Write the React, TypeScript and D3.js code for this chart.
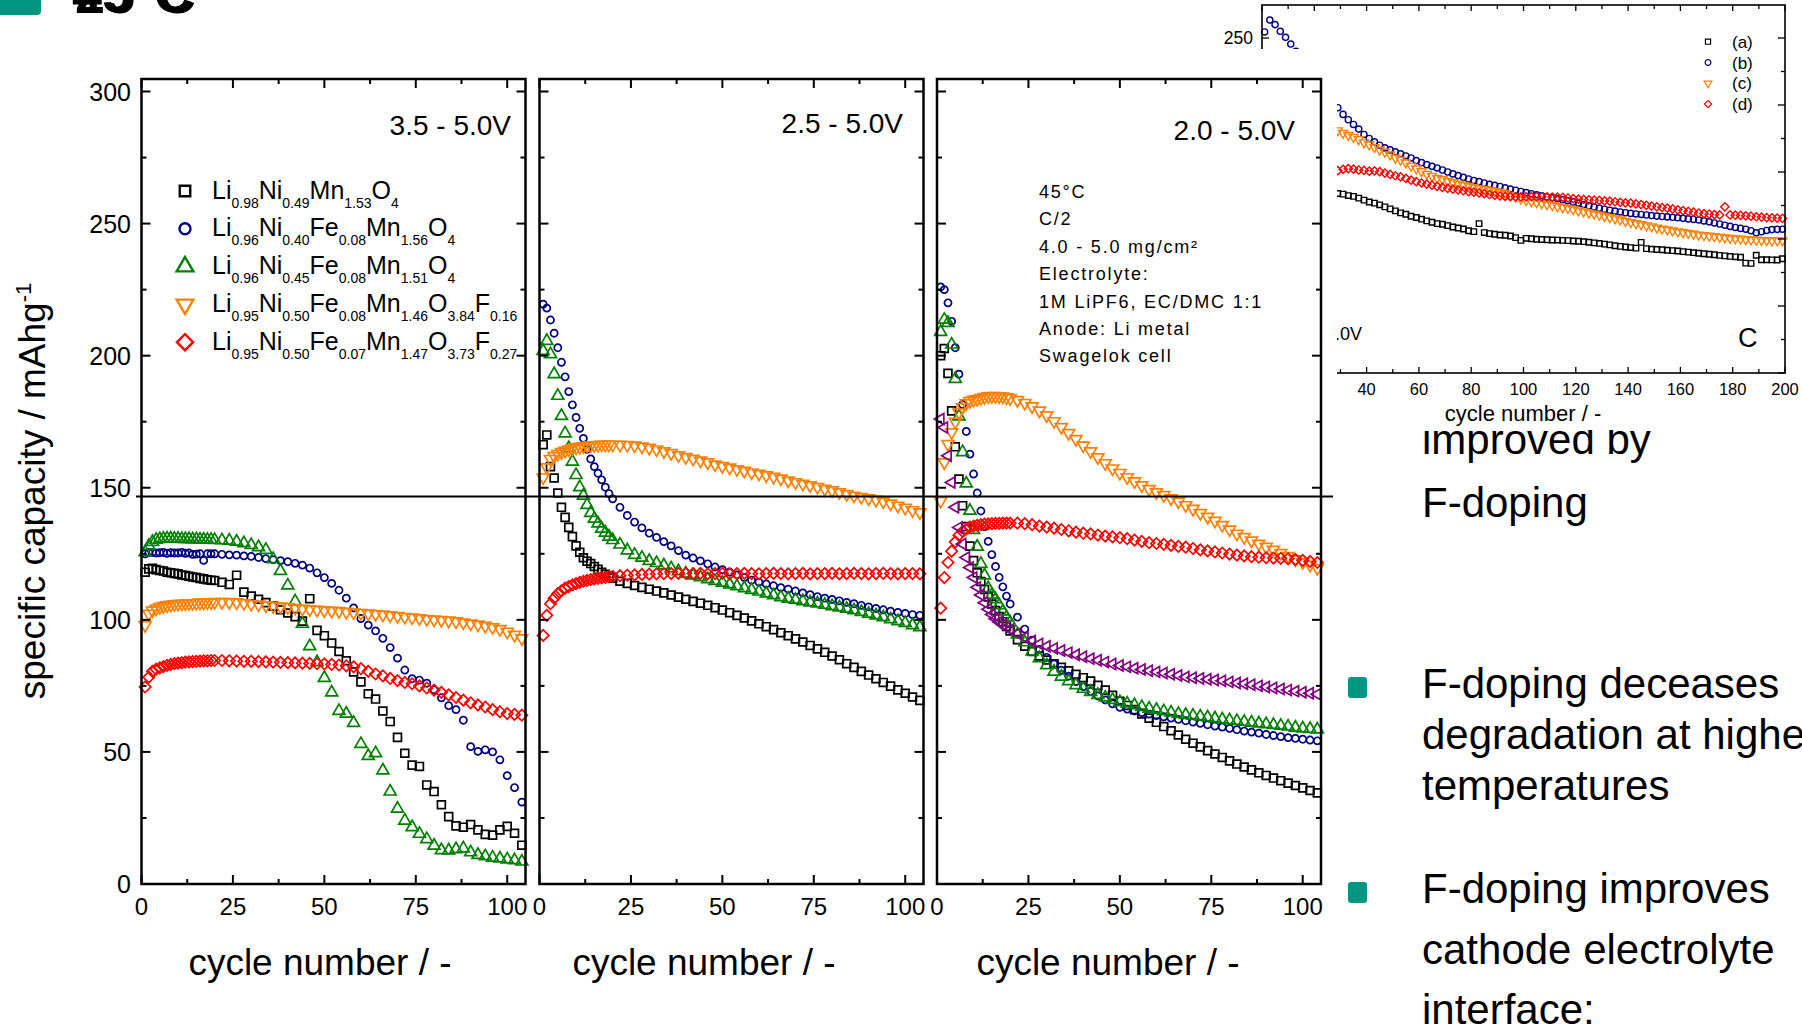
import React, { useEffect } from 'react';
import * as d3 from 'd3';

const FONT = "'Liberation Sans', Arial, Helvetica, sans-serif";
const TEAL = '#009682';
const W = 1802;
const H = 1028;

/* ---------- main panels: cycle numbers shared by every series ---------- */
const cycles = [
  1, 2, 3, 4, 5, 6, 7, 8, 9, 10, 11, 12, 13, 14, 15, 16, 17, 18, 19, 20,
  22, 24, 26, 28, 30, 32, 34, 36, 38, 40, 42, 44, 46, 48, 50, 52, 54, 56, 58, 60,
  62, 64, 66, 68, 70, 72, 74, 76, 78, 80, 82, 84, 86, 88, 90, 92, 94, 96, 98, 100, 102, 104,
];

/* 3.5 - 5.0 V */
const p1Black = [118, 119.3, 119.5, 119, 118.7, 118.5, 118, 117.8, 117.6, 117.4, 117, 116.8, 116.5, 116.2, 116, 115.7, 115.5, 115.2, 115, 114.9,
  114.2, 113.4, 116.9, 110.5, 109, 107.8, 106.5, 105.2, 103.8, 102.6, 101.2, 99.5, 108, 96, 94, 91.2, 88, 84.5, 80.3, 76.5,
  72, 70, 65.5, 61.5, 55.5, 49.5, 45, 44.5, 37.5, 35, 30, 25.5, 22, 21.5, 22.5, 20.5, 18.8, 18.5, 20.5, 21.8, 19.2, 14.7];
const p1Blue = [125, 125.5, 125.5, 125.3, 125.4, 125.5, 125.2, 125.4, 125.3, 125.3, 125.5, 125.2, 125.3, 124.8, 124.9, 125, 122.5, 125, 125, 125,
  124.8, 124.6, 124.5, 124.2, 124, 123.6, 123.2, 122.8, 122.4, 122, 121.4, 120.7, 119.6, 117.8, 116, 113.8, 111.2, 108.2, 104.5, 100.5,
  98, 95.8, 93, 89.5, 85.5, 81, 77.7, 77.2, 76, 73.5, 70.5, 67.5, 66, 62, 52, 50.2, 50.8, 50, 47, 41, 36.5, 31];
const p1Green = [125.6, 128, 129.5, 130.3, 130.6, 130.7, 130.8, 130.8, 130.7, 130.7, 130.6, 130.6, 130.6, 130.5, 130.5, 130.4, 130.4, 130.3, 130.3, 130.2,
  130.1, 130, 129.6, 129, 128.3, 127.5, 126.5, 123, 118.5, 113, 107, 98.5, 90, 84, 78, 72.5, 65.5, 64.5, 61, 53,
  48.5, 49.5, 43, 35, 28.5, 24, 21.5, 19, 17, 14.5, 12.8, 12.7, 13.2, 13.5, 12, 11, 10.5, 10, 9.7, 9.3, 9, 8.5];
const p1Orange = [98, 102.3, 103.5, 104.2, 104.8, 105.2, 105.5, 105.7, 105.9, 106, 106.1, 106.2, 106.3, 106.3, 106.4, 106.5, 106.5, 106.6, 106.6, 106.7,
  106.7, 106.7, 106.6, 106.3, 106, 105.8, 105.5, 105.2, 105, 104.8, 104.5, 104.2, 104, 103.8, 103.6, 103.4, 103.3, 103, 102.8, 102.6,
  102.4, 102.2, 102, 101.7, 101.4, 101.1, 100.9, 100.6, 100.3, 100.1, 99.9, 99.7, 99.4, 99, 98.6, 98.2, 97.7, 97.2, 96.5, 95.5, 94.3, 93];
const p1Red = [74.6, 78.3, 80.5, 81.3, 81.8, 82.3, 82.8, 83.1, 83.4, 83.6, 83.8, 84, 84.1, 84.2, 84.3, 84.4, 84.5, 84.5, 84.6, 84.6,
  84.6, 84.5, 84.4, 84.3, 84.3, 84.2, 84.1, 84, 83.9, 83.8, 83.7, 83.6, 83.5, 83.4, 83.3, 83.1, 82.9, 82.6, 82.2, 81.5,
  80.5, 79.5, 78.8, 77.8, 77, 76.3, 75.8, 75, 74.2, 73.4, 72.5, 71.6, 70.6, 69.6, 68.6, 67.8, 67, 66, 65.2, 64.5, 64.2, 63.9];

/* 2.5 - 5.0 V */
const p2Black = [166.3, 170, 158, 153.7, 148, 142.6, 138.8, 135, 131.5, 128, 125.6, 123.5, 122.2, 121.3, 120.2, 119.1, 118, 117.2, 116.5, 115.8,
  114.6, 113.8, 113, 112.3, 111.6, 110.9, 110.2, 109.4, 108.6, 107.8, 107, 106.3, 105.5, 104.6, 103.7, 102.7, 101.7, 100.7, 99.6, 98.5,
  97.4, 96.3, 95.1, 94, 92.8, 91.6, 90.3, 89, 87.7, 86.3, 84.9, 83.4, 82, 80.5, 79.1, 77.7, 76.3, 74.9, 73.5, 72.2, 70.8, 69.5];
const p2Blue = [219.5, 218, 213.5, 208.5, 203, 197.5, 192, 186.4, 181.4, 176.6, 172.5, 168.7, 164.5, 160.9, 158, 155.5, 153, 150.2, 147.8, 145.8,
  142.6, 139.5, 137, 134.8, 132.8, 131.2, 129.6, 128, 126.2, 124.5, 123.4, 122.3, 121.2, 120, 119, 118.1, 117, 116, 115, 114.3,
  113.6, 112.9, 112.2, 111.6, 110.9, 110.2, 109.5, 108.8, 108.2, 107.7, 107.2, 106.6, 106.1, 105.5, 104.9, 104.3, 103.8, 103.3, 102.8, 102.4, 102, 101.7];
const p2Green = [201.8, 205.6, 200.6, 193, 184.8, 177.2, 170.6, 165, 159.9, 154.8, 150.2, 147, 143.5, 140.5, 138.3, 136.5, 134.5, 133, 131.5, 130.2,
  128.5, 126.3, 124.6, 123.5, 122.3, 121.5, 120.6, 119.5, 118.4, 117.5, 116.8, 116.1, 115.4, 114.7, 114.1, 113.4, 112.7, 112, 111.3, 110.7,
  110, 109.3, 108.6, 108, 107.6, 107.1, 106.6, 106.2, 105.7, 105.2, 104.7, 104.2, 103.6, 103, 102.3, 101.7, 101, 100.2, 99.5, 98.8, 98, 97.2];
const p2Orange = [153.9, 157.7, 160.9, 162, 162.8, 163.5, 164, 164.5, 164.9, 165.2, 165.5, 165.7, 165.9, 166, 166.1, 166.2, 166.3, 166.3, 166.3, 166.3,
  166.3, 166.2, 166, 165.6, 165.1, 164.5, 163.8, 163.1, 162.3, 161.6, 161, 160.3, 159.6, 158.8, 158.2, 157.6, 157, 156.4, 155.8, 155.3,
  154.7, 154.1, 153.5, 152.7, 152.1, 151.5, 150.9, 150.3, 149.6, 149, 148.3, 147.6, 147, 146.5, 146, 145.4, 144.8, 144, 143.2, 142.4, 141.5, 140.7];
const p2Red = [94.1, 101.7, 106.1, 108.2, 109.9, 111, 112, 112.6, 113.2, 113.7, 114.2, 114.6, 114.9, 115.2, 115.5, 115.7, 115.9, 116.1, 116.3, 116.5,
  116.7, 116.9, 117, 117.2, 117.3, 117.4, 117.5, 117.5, 117.6, 117.6, 117.5, 117.6, 117.4, 117.5, 117.6, 117.4, 117.5, 117.6, 117.5, 117.4,
  117.5, 117.6, 117.5, 117.4, 117.5, 117.6, 117.4, 117.5, 117.5, 117.6, 117.4, 117.5, 117.6, 117.5, 117.4, 117.5, 117.6, 117.5, 117.4, 117.5, 117.5, 117.4];

/* 2.0 - 5.0 V */
const p3Black = [200, 202.7, 193.3, 179.1, 165.5, 153.3, 143.2, 135.3, 127.9, 122.4, 117.8, 114.5, 111.5, 108.7, 106, 103.5, 101.2, 99.3, 97.5, 95.8,
  92.5, 90, 88, 86.3, 84.8, 83.4, 82, 80.7, 79.4, 78.1, 76.8, 75.2, 73.4, 71.4, 69.2, 67.6, 66, 64.4, 62.8, 61.2,
  59.6, 58, 56.4, 54.8, 53.3, 51.9, 50.5, 49.2, 47.9, 46.6, 45.4, 44.3, 43.2, 42.1, 41.1, 40.1, 39.1, 38.2, 37.3, 36.4, 35.4, 34.5];
const p3Blue = [226, 225, 220, 213, 203, 193, 181.5, 171.3, 162.7, 155.2, 148, 141.2, 135.3, 129.7, 124.7, 120.2, 116.1, 112.5, 109, 106,
  101, 96.5, 92.3, 88.8, 85.8, 83.3, 80.9, 78.7, 76.6, 74.7, 72.9, 71.2, 69.7, 68.2, 66.9, 66.2, 65.5, 64.9, 64.3, 63.8,
  63.3, 62.8, 62.3, 61.8, 61.3, 60.8, 60.3, 59.8, 59.4, 58.9, 58.4, 57.9, 57.5, 57.1, 56.6, 56.2, 55.8, 55.4, 55.1, 54.8, 54.5, 54.2];
const p3Green = [209, 213.6, 212.4, 204.2, 191.2, 177, 163.5, 151.6, 141.3, 134, 127.7, 121.2, 116.8, 112, 109.5, 107.8, 105.5, 103.2, 101, 99,
  94.5, 91.5, 88, 85.5, 82.8, 80.4, 78.5, 76.8, 75.3, 73.9, 72.7, 71.6, 70.6, 69.7, 68.9, 68.3, 67.7, 67, 66.4, 65.9,
  65.4, 64.9, 64.4, 64, 63.7, 63.4, 63.1, 62.7, 62.3, 62, 61.7, 61.4, 61.1, 60.8, 60.5, 60.2, 59.9, 59.6, 59.2, 58.9, 58.7, 58.5];
const p3Orange = [145, 159.6, 166.5, 171, 175, 178.5, 180.5, 182, 182.8, 183.3, 183.6, 184, 184.3, 184.6, 184.7, 184.7, 184.6, 184.5, 184.2, 183.9,
  183.2, 182.1, 180.8, 179.2, 177.4, 175.2, 173, 170.7, 168.4, 166, 163.8, 161.5, 159.3, 157.3, 155.6, 154, 152.4, 150.9, 149.5, 148.3,
  147.2, 146, 144.8, 143.4, 142, 140.4, 139, 137.5, 135.9, 134.2, 132.6, 131.3, 130, 128.8, 127.6, 126.5, 125.3, 124.1, 122.9, 121.8, 120.8, 119.6];
const p3Red = [104.4, 116, 121.7, 126, 129.5, 132, 133.5, 134.4, 135.1, 135.5, 135.8, 136, 136.2, 136.3, 136.4, 136.5, 136.5, 136.6, 136.6, 136.6,
  136.6, 136.4, 136, 135.5, 135.1, 134.7, 134.2, 133.7, 133.2, 132.8, 132.5, 132.1, 131.7, 131.4, 131.1, 130.7, 130.2, 129.7, 129.2, 128.9,
  128.6, 128.2, 127.8, 127.5, 127, 126.5, 126.1, 125.7, 125.3, 124.9, 124.5, 124.2, 123.9, 123.7, 123.5, 123.4, 123.3, 123.1, 122.8, 122.5, 122.1, 121.7];
const p3Purple = [176, 172.8, 162.1, 152, 142.6, 135, 128.7, 123.6, 119.8, 116, 112.3, 109.4, 106.5, 104, 102, 100.4, 99.2, 98.1, 97.1, 96.3,
  94.8, 93.3, 92, 90.9, 90, 89.2, 88.4, 87.6, 86.8, 86, 85.3, 84.7, 84, 83.3, 82.7, 82.2, 81.7, 81.2, 80.7, 80.3,
  79.9, 79.4, 78.9, 78.4, 78.1, 77.8, 77.5, 77.2, 76.9, 76.5, 76.1, 75.8, 75.4, 75, 74.6, 74.2, 73.8, 73.4, 73, 72.6, 72.2, 71.8];

/* ---------- inset (200 cycles) ---------- */
const insetCycles = [29, 31, 33, 35, 37, 39, 41, 43, 45, 47, 49, 51, 53, 55, 57, 59, 61, 63, 65, 67,
  69, 71, 73, 75, 77, 79, 81, 83, 85, 87, 89, 91, 93, 95, 97, 99, 101, 103, 105, 107,
  109, 111, 113, 115, 117, 119, 121, 123, 125, 127, 129, 131, 133, 135, 137, 139, 141, 143, 145, 147,
  149, 151, 153, 155, 157, 159, 161, 163, 165, 167, 169, 171, 173, 175, 177, 179, 181, 183, 185, 187,
  189, 191, 193, 195, 197, 199];
const insetEarlyCycles = [1, 3, 5, 7, 9, 11, 13, 15, 17, 19, 21, 23, 25, 27];
const insetBEarly = [254.5, 263.4, 260, 255, 250.5, 245.5, 240, 234, 227, 220, 214, 208, 203, 199.5];
const insetA = [134, 133.5, 132.4, 131.8, 130.5, 129, 127.6, 126.8, 125.5, 124, 122.5, 121, 119.5, 118.5, 117, 116, 114.8, 113.5, 112.5, 111.5,
  111, 110, 109, 108.2, 107.5, 106.2, 105.5, 111.5, 104.8, 104, 103.5, 103, 102.8, 102.2, 101, 99, 100.5, 100.2, 99.8, 99.6,
  99.4, 99.3, 99.2, 99, 98.8, 98.5, 98.3, 98, 97.6, 97.1, 96.7, 96.2, 95.6, 95, 94.5, 94, 93.6, 93.2, 97.5, 92.8,
  92.4, 92.2, 92, 91.6, 91.3, 91, 90.6, 90.2, 89.8, 89.4, 89, 88.6, 88.2, 87.8, 87.4, 87, 86.7, 86.4, 82, 81.8,
  87.9, 84.5, 84.5, 84.4, 84.3, 85.3];
const insetB = [198, 193, 189, 185.5, 182, 178, 175, 172.5, 170, 168, 166.5, 165, 163.5, 162, 160.5, 158.5, 157, 155.5, 154.2, 153,
  151.5, 150, 148.6, 147.3, 146, 144.8, 143.7, 142.8, 141.8, 140.8, 140, 139.2, 138.2, 137.3, 136.4, 135.5, 134.6, 133.8, 133, 132.2,
  131.4, 130.7, 130, 129.3, 128.6, 127.7, 126.8, 125.8, 124.8, 123.9, 123, 122.2, 121.5, 120.8, 120.2, 119.6, 119.1, 118.7, 118.3, 117.9,
  117.5, 117.1, 116.8, 116.5, 116.2, 115.8, 115.4, 115, 114.6, 114.2, 113.5, 112.8, 112, 111.2, 110.3, 109.4, 108.6, 107.9, 107.3, 106.2,
  104.6, 105.4, 106.4, 107, 107.2, 107.3];
const insetC = [181, 179, 177.5, 176, 174.3, 172, 170.5, 168.5, 166.5, 165, 163, 160.5, 159, 157, 154.5, 152.5, 150.5, 148.5, 147, 145.5,
  144.5, 143.3, 142.2, 141.2, 140.3, 139.4, 138.6, 137.9, 137.2, 136.5, 135.8, 135, 134, 132.7, 131.4, 130, 128.8, 128, 127.4, 126.6,
  125.8, 125.2, 124.4, 123.6, 123, 122.1, 121.2, 120.4, 119.6, 118.8, 118, 117.1, 116.2, 115.3, 114.4, 113.4, 112.5, 111.7, 110.9, 110.1,
  109.3, 108.4, 107.6, 107, 106.3, 105.6, 105, 104.4, 103.8, 103.2, 102.8, 102.3, 101.9, 101.5, 101.1, 100.7, 100.4, 100.1, 99.8, 99.5,
  99.3, 99.1, 99, 98.9, 98.9, 98.9];
const insetD = [151, 152, 152.5, 152.2, 151.5, 151.2, 150.6, 150.8, 150.2, 149.2, 148.2, 147.2, 146.4, 145.2, 144, 142.8, 141.8, 141, 140.2, 139.3,
  138.5, 137.8, 137.2, 136.6, 136, 135.4, 134.9, 134.4, 133.8, 133.2, 132.6, 132.1, 131.8, 131.6, 131.5, 131.5, 131.5, 131.6, 131.6, 131.5,
  131.4, 131.3, 131.2, 131, 130.6, 130.2, 129.8, 129.5, 129.2, 129, 128.8, 128.5, 128.2, 127.8, 127.4, 127, 126.7, 126.2, 125.7, 125.1,
  124.6, 124, 123.5, 123, 122.4, 121.8, 121.2, 120.6, 120, 119.4, 118.9, 118.5, 118.2, 118, 124, 118, 117.8, 117.6, 117.3, 117,
  116.6, 116.3, 116, 115.8, 115.6, 115.4];

/* ---------- ticks and labels ---------- */
const yTicks = [0, 50, 100, 150, 200, 250, 300];
const yMinor = [25, 75, 125, 175, 225, 275];
const xTicks = [0, 25, 50, 75, 100];
const xMinor = [12.5, 37.5, 62.5, 87.5];
const voltageWindows = ['3.5 - 5.0V', '2.5 - 5.0V', '2.0 - 5.0V'];
const conditions = ['45°C', 'C/2', '4.0 - 5.0 mg/cm²', 'Electrolyte:', '1M LiPF6, EC/DMC 1:1', 'Anode: Li metal', 'Swagelok cell'];
const formulas: [string, string][][] = [
  [['Li', '0.98'], ['Ni', '0.49'], ['Mn', '1.53'], ['O', '4']],
  [['Li', '0.96'], ['Ni', '0.40'], ['Fe', '0.08'], ['Mn', '1.56'], ['O', '4']],
  [['Li', '0.96'], ['Ni', '0.45'], ['Fe', '0.08'], ['Mn', '1.51'], ['O', '4']],
  [['Li', '0.95'], ['Ni', '0.50'], ['Fe', '0.08'], ['Mn', '1.46'], ['O', '3.84'], ['F', '0.16']],
  [['Li', '0.95'], ['Ni', '0.50'], ['Fe', '0.07'], ['Mn', '1.47'], ['O', '3.73'], ['F', '0.27']],
];
// the inset is mostly hidden: only these tick labels show
const insetXTicks = [0, 20, 40, 60, 80, 100, 120, 140, 160, 180, 200];
const insetXLabels = [40, 60, 80, 100, 120, 140, 160, 180, 200];
const insetYTicks = [0, 50, 100, 150, 200, 250];
const insetYLabels = [250];
const insetYMinor = [25, 75, 125, 175, 225];
const insetLegend = ['(a)', '(b)', '(c)', '(d)'];
const bullet1 = ['F-doping deceases', 'degradation at higher', 'temperatures'];
const bullet2 = ['F-doping improves', 'cathode electrolyte', 'interface:'];

type Shape = 'square' | 'circle' | 'up' | 'down' | 'diamond' | 'left';
interface Series { values: number[]; color: string; shape: Shape }

const C = { black: '#000000', blue: '#000080', green: '#008000', orange: '#ff8000', red: '#ff0000', purple: '#800080' };

const panels: Series[][] = [
  [
    { values: p1Black, color: C.black, shape: 'square' },
    { values: p1Blue, color: C.blue, shape: 'circle' },
    { values: p1Green, color: C.green, shape: 'up' },
    { values: p1Orange, color: C.orange, shape: 'down' },
    { values: p1Red, color: C.red, shape: 'diamond' },
  ],
  [
    { values: p2Black, color: C.black, shape: 'square' },
    { values: p2Blue, color: C.blue, shape: 'circle' },
    { values: p2Green, color: C.green, shape: 'up' },
    { values: p2Orange, color: C.orange, shape: 'down' },
    { values: p2Red, color: C.red, shape: 'diamond' },
  ],
  [
    { values: p3Black, color: C.black, shape: 'square' },
    { values: p3Blue, color: C.blue, shape: 'circle' },
    { values: p3Green, color: C.green, shape: 'up' },
    { values: p3Orange, color: C.orange, shape: 'down' },
    { values: p3Red, color: C.red, shape: 'diamond' },
    { values: p3Purple, color: C.purple, shape: 'left' },
  ],
];
const legendSeries: Series[] = panels[0];

const SHAPE_TYPE: Record<Shape, d3.SymbolType> = {
  square: d3.symbolSquare, circle: d3.symbolCircle, up: d3.symbolTriangle,
  down: d3.symbolTriangle, diamond: d3.symbolSquare, left: d3.symbolTriangle,
};
const SHAPE_ROT: Record<Shape, number> = { square: 0, circle: 0, up: 0, down: 180, diamond: 45, left: -90 };
const MAIN_SIZE: Record<Shape, number> = { square: 62, circle: 40, up: 62, down: 62, diamond: 64, left: 52 };
const INSET_SIZE: Record<Shape, number> = { square: 30, circle: 30, up: 36, down: 36, diamond: 34, left: 30 };
const LEGEND_SIZE: Record<Shape, number> = { square: 110, circle: 95, up: 120, down: 120, diamond: 130, left: 100 };

const pathCache: Record<string, string> = {};
const symbolPath = (shape: Shape, size: number) => {
  const key = shape + size;
  if (!pathCache[key]) pathCache[key] = d3.symbol().type(SHAPE_TYPE[shape]).size(size)() || '';
  return pathCache[key];
};

const Marker = ({ x, y, shape, color, size, sw }: { x: number; y: number; shape: Shape; color: string; size: number; sw: number }) => (
  <path
    d={symbolPath(shape, size)}
    transform={`translate(${x.toFixed(2)},${y.toFixed(2)}) rotate(${SHAPE_ROT[shape]})`}
    fill="none"
    stroke={color}
    strokeWidth={sw}
  />
);

/* ---------- layout ---------- */
const panelLeft = [141.5, 539.5, 937];
const panelW = 384;
const plotTop = 79;
const plotBottom = 884;
const windowLabelPos = [{ x: 511, y: 135 }, { x: 903, y: 133 }, { x: 1295, y: 140 }];
const xTitleCenter = [320, 704, 1108];

const yMain = d3.scaleLinear().domain([0, 300]).range([plotBottom, 91.5]);

const Panel = ({ idx }: { idx: number }) => {
  const left = panelLeft[idx];
  const right = left + panelW;
  const x = d3.scaleLinear().domain([0, 105]).range([left, right]);
  const series = panels[idx];
  return (
    <g>
      {series.map((s, si) => (
        <g key={si}>
          {s.values.map((v, i) => (
            <Marker key={i} x={x(cycles[i])} y={yMain(v)} shape={s.shape} color={s.color} size={MAIN_SIZE[s.shape]} sw={1.7} />
          ))}
        </g>
      ))}
      <rect x={left} y={plotTop} width={panelW} height={plotBottom - plotTop} fill="none" stroke="#000" strokeWidth={2.5} />
      {xTicks.map(t => (
        <g key={'xt' + t} stroke="#000" strokeWidth={2}>
          <line x1={x(t)} x2={x(t)} y1={plotBottom} y2={plotBottom - 9} />
          <line x1={x(t)} x2={x(t)} y1={plotTop} y2={plotTop + 9} />
        </g>
      ))}
      {xMinor.map(t => (
        <g key={'xm' + t} stroke="#000" strokeWidth={2}>
          <line x1={x(t)} x2={x(t)} y1={plotBottom} y2={plotBottom - 5} />
          <line x1={x(t)} x2={x(t)} y1={plotTop} y2={plotTop + 5} />
        </g>
      ))}
      {yTicks.map(t => (
        <g key={'yt' + t} stroke="#000" strokeWidth={2}>
          <line x1={left} x2={left + 9} y1={yMain(t)} y2={yMain(t)} />
          <line x1={right} x2={right - 9} y1={yMain(t)} y2={yMain(t)} />
        </g>
      ))}
      {yMinor.map(t => (
        <g key={'ym' + t} stroke="#000" strokeWidth={2}>
          <line x1={left} x2={left + 5} y1={yMain(t)} y2={yMain(t)} />
          <line x1={right} x2={right - 5} y1={yMain(t)} y2={yMain(t)} />
        </g>
      ))}
      {xTicks.map(t => (
        <text key={'xl' + t} x={x(t)} y={915} textAnchor="middle" fontSize={24}>{t}</text>
      ))}
      <text x={windowLabelPos[idx].x} y={windowLabelPos[idx].y} textAnchor="end" fontSize={28}>{voltageWindows[idx]}</text>
      <text x={xTitleCenter[idx]} y={975} textAnchor="middle" fontSize={37}>cycle number / -</text>
    </g>
  );
};

const Inset = () => {
  const xi = d3.scaleLinear().domain([0, 200]).range([1262, 1785]);
  const yi = d3.scaleLinear().domain([0, 250]).range([373, 38]);
  const top = 5;
  const bottom = 373;
  const insetSeries: { cyc: number[]; values: number[]; color: string; shape: Shape }[] = [
    { cyc: insetCycles, values: insetA, color: C.black, shape: 'square' },
    { cyc: [...insetEarlyCycles, ...insetCycles], values: [...insetBEarly, ...insetB], color: C.blue, shape: 'circle' },
    { cyc: insetCycles, values: insetC, color: C.orange, shape: 'down' },
    { cyc: insetCycles, values: insetD, color: C.red, shape: 'diamond' },
  ];
  const xMinorTicks = insetXTicks.slice(0, -1).map(t => t + 10);
  return (
    <g>
      <rect x={1190} y={0} width={W - 1190} height={430} fill="#fff" />
      {insetSeries.map((s, si) => (
        <g key={si}>
          {s.values.map((v, i) => (
            <Marker key={i} x={xi(s.cyc[i])} y={yi(v)} shape={s.shape} color={s.color} size={INSET_SIZE[s.shape]} sw={1.4} />
          ))}
        </g>
      ))}
      <rect x={1262} y={top} width={1785 - 1262} height={bottom - top} fill="none" stroke="#000" strokeWidth={1.6} />
      {insetXTicks.map(t => (
        <g key={'ix' + t} stroke="#000" strokeWidth={1.3}>
          <line x1={xi(t)} x2={xi(t)} y1={bottom} y2={bottom - 6} />
          <line x1={xi(t)} x2={xi(t)} y1={top} y2={top + 6} />
        </g>
      ))}
      {xMinorTicks.map(t => (
        <g key={'ixm' + t} stroke="#000" strokeWidth={1.3}>
          <line x1={xi(t)} x2={xi(t)} y1={bottom} y2={bottom - 4} />
          <line x1={xi(t)} x2={xi(t)} y1={top} y2={top + 4} />
        </g>
      ))}
      {insetYTicks.map(t => (
        <g key={'iy' + t} stroke="#000" strokeWidth={1.3}>
          <line x1={1262} x2={1269} y1={yi(t)} y2={yi(t)} />
          <line x1={1785} x2={1778} y1={yi(t)} y2={yi(t)} />
        </g>
      ))}
      {insetYMinor.map(t => (
        <g key={'iym' + t} stroke="#000" strokeWidth={1.3}>
          <line x1={1262} x2={1266} y1={yi(t)} y2={yi(t)} />
          <line x1={1785} x2={1781} y1={yi(t)} y2={yi(t)} />
        </g>
      ))}
      {insetXLabels.map(t => (
        <text key={'ixl' + t} x={xi(t)} y={395} textAnchor="middle" fontSize={16.5}>{t}</text>
      ))}
      {insetYLabels.map(t => (
        <text key={'iyl' + t} x={1253} y={yi(t) + 6} textAnchor="end" fontSize={17.5}>{t}</text>
      ))}
      <text x={1523} y={421} textAnchor="middle" fontSize={22}>cycle number / -</text>
      <text x={1362} y={340} textAnchor="end" fontSize={18}>2.0 - 5.0V</text>
      <text x={1738} y={347} fontSize={27}>C</text>
      {insetLegend.map((lab, i) => (
        <g key={lab}>
          <Marker x={1708} y={41.7 + i * 20.8} shape={insetSeries[i].shape} color={insetSeries[i].color} size={26} sw={1.2} />
          <text x={1732} y={41.7 + i * 20.8 + 6} fontSize={17}>{lab}</text>
        </g>
      ))}
    </g>
  );
};

export default function App() {
  useEffect(() => {
    document.body.style.margin = '0';
    document.body.style.overflow = 'hidden';
  }, []);

  return (
    <svg width={W} height={H} style={{ position: 'absolute', left: 0, top: 0 }} fontFamily={FONT}>
      <rect width={W} height={H} fill="#fff" />

      {/* slide background: title remnant and bullet text */}
      <rect x={-10} y={-10} width={51} height={25} rx={4} fill={TEAL} />
      <text x={72} y={12} fontSize={54} fontWeight="bold">45°C</text>
      <text x={75} y={13} fontSize={54} fontWeight="bold">25°C</text>

      <text x={1422} y={454} fontSize={42}>improved by</text>
      <text x={1422} y={517} fontSize={42}>F-doping</text>
      <rect x={1348} y={677} width={19} height={21} rx={3} fill={TEAL} />
      {bullet1.map((t, i) => (
        <text key={t} x={1422} y={698 + i * 51} fontSize={42}>{t}</text>
      ))}
      <rect x={1348} y={882} width={19} height={21} rx={3} fill={TEAL} />
      {bullet2.map((t, i) => (
        <text key={t} x={1422} y={903 + i * 60.5} fontSize={42}>{t}</text>
      ))}

      {/* inset figure, partly hidden behind the main figure */}
      <Inset />

      {/* main figure */}
      <rect x={0} y={49} width={1337} height={H - 49} fill="#fff" />
      {[0, 1, 2].map(i => <Panel key={i} idx={i} />)}

      {/* legend */}
      {legendSeries.map((s, i) => {
        const cy = 191 + i * 37.8;
        return (
          <g key={i}>
            <Marker x={185} y={cy} shape={s.shape} color={s.color} size={LEGEND_SIZE[s.shape]} sw={2.4} />
            <text x={212} y={cy + 7.5} fontSize={25}>
              {formulas[i].map(([el, sub], j) => (
                <React.Fragment key={j}>
                  <tspan dy={j === 0 ? 0 : -9}>{el}</tspan>
                  <tspan dy={9} fontSize={14}>{sub}</tspan>
                </React.Fragment>
              ))}
            </text>
          </g>
        );
      })}

      {/* test conditions */}
      {conditions.map((t, i) => (
        <text key={t} x={1039} y={198 + i * 27.4} fontSize={18} letterSpacing={1.8}>{t}</text>
      ))}

      {/* y tick labels and title */}
      {yTicks.map(t => (
        <text key={t} x={131} y={yMain(t)} textAnchor="end" dominantBaseline="central" fontSize={25}>{t}</text>
      ))}
      <text transform="translate(44.5,491) rotate(-90)" textAnchor="middle" fontSize={37}>
        specific capacity / mAhg<tspan dy={-14} fontSize={22}>-1</tspan>
      </text>

      <line x1={136} x2={1333} y1={496.5} y2={496.5} stroke="#000" strokeWidth={2} />
    </svg>
  );
}
